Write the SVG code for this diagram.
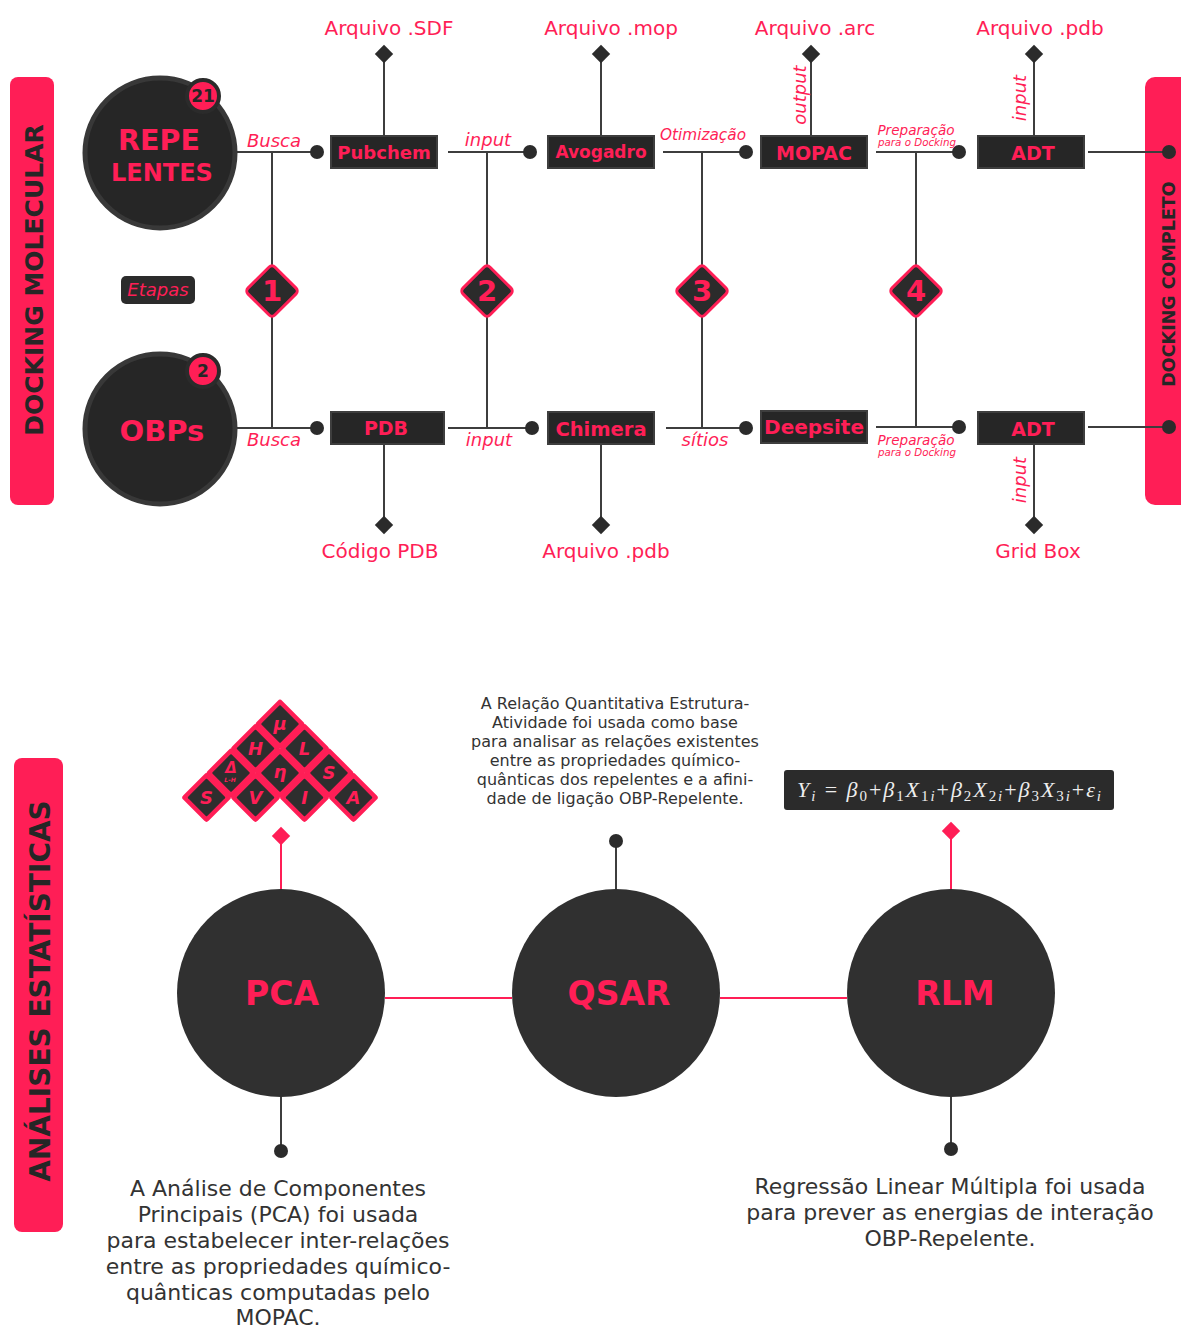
<svg xmlns="http://www.w3.org/2000/svg" width="1181" height="1329" viewBox="0 0 1181 1329">
<style>
text{font-family:"DejaVu Sans",Verdana,sans-serif}
.pk{fill:#ff1e56}
.dk{fill:#2b2b2b}
.bold{font-weight:bold}
.it{font-style:italic}
.ln{stroke:#3d3d3d;stroke-width:2;fill:none}
.pl{stroke:#ff1e56;stroke-width:2;fill:none}
.box{fill:#262626;stroke:#3e3e3e;stroke-width:2}
.lbl{font-size:20px;fill:#ff1e56;text-anchor:middle}
.edge{fill:#ff1e56;font-style:italic;text-anchor:middle}
.nt{font-weight:bold;fill:#ff1e56;text-anchor:middle}
.para{fill:#333;text-anchor:middle}
.cellp{fill:#ff1e56}
.celld{fill:#2e2e2e}
.cl{font-weight:bold;font-style:italic;fill:#ff1e56;text-anchor:middle}
.math{font-family:"Liberation Serif","DejaVu Serif",serif}
</style>
<defs>
<circle id="dot" r="7" fill="#2b2b2b"/>
<rect id="term" x="-6.5" y="-6.5" width="13" height="13" transform="rotate(45)" fill="#2b2b2b"/>
<rect id="pterm" x="-6.5" y="-6.5" width="13" height="13" transform="rotate(45)" fill="#ff1e56"/>
<rect id="step" x="-19" y="-19" width="38" height="38" rx="4" transform="rotate(45)" fill="#2b2b2b" stroke="#ff1e56" stroke-width="3"/>
<rect id="cp" x="-18" y="-18" width="36" height="36" rx="3" transform="rotate(45)" class="cellp"/>
<rect id="cd" x="-13.5" y="-13.5" width="27" height="27" rx="1" transform="rotate(45)" class="celld"/>
</defs>
<rect width="1181" height="1329" fill="#fff"/>

<g id="bar-docking-molecular">
<rect x="10" y="77" width="44" height="428" rx="8" class="pk"/>
<text transform="translate(43,280) rotate(-90)" font-size="25" class="bold" fill="#262626" text-anchor="middle">DOCKING MOLECULAR</text>
</g>
<g id="bar-docking-completo">
<rect x="1145" y="77" width="60" height="428" rx="10" class="pk"/>
<text transform="translate(1175,284) rotate(-90)" font-size="17.5" class="bold" fill="#262626" text-anchor="middle">DOCKING COMPLETO</text>
</g>
<g id="bar-analises">
<rect x="14" y="758" width="49" height="474" rx="8" class="pk"/>
<text transform="translate(50,991) rotate(-90)" font-size="28" class="bold" fill="#262626" text-anchor="middle">ANÁLISES ESTATÍSTICAS</text>
</g>

<g id="connectors">
<line x1="237" y1="152" x2="317" y2="152" class="ln"/>
<line x1="448" y1="152" x2="530" y2="152" class="ln"/>
<line x1="663" y1="152" x2="746" y2="152" class="ln"/>
<line x1="876" y1="152" x2="959" y2="152" class="ln"/>
<line x1="1088" y1="152" x2="1169" y2="152" class="ln"/>
<line x1="237" y1="428" x2="317" y2="428" class="ln"/>
<line x1="448" y1="428" x2="532" y2="428" class="ln"/>
<line x1="666" y1="428" x2="746" y2="428" class="ln"/>
<line x1="876" y1="427" x2="959" y2="427" class="ln"/>
<line x1="1088" y1="427" x2="1169" y2="427" class="ln"/>
<line x1="272" y1="152" x2="272" y2="428" class="ln"/>
<line x1="487" y1="152" x2="487" y2="428" class="ln"/>
<line x1="702" y1="152" x2="702" y2="428" class="ln"/>
<line x1="916" y1="152" x2="916" y2="427" class="ln"/>
<line x1="384" y1="54" x2="384" y2="136" class="ln"/>
<line x1="601" y1="54" x2="601" y2="136" class="ln"/>
<line x1="811" y1="54" x2="811" y2="136" class="ln"/>
<line x1="1034" y1="54" x2="1034" y2="136" class="ln"/>
<line x1="384" y1="444" x2="384" y2="525" class="ln"/>
<line x1="601" y1="444" x2="601" y2="525" class="ln"/>
<line x1="1034" y1="444" x2="1034" y2="525" class="ln"/>
<use href="#term" x="384" y="54"/>
<use href="#term" x="601" y="54"/>
<use href="#term" x="811" y="54"/>
<use href="#term" x="1034" y="54"/>
<use href="#term" x="384" y="525"/>
<use href="#term" x="601" y="525"/>
<use href="#term" x="1034" y="525"/>
<use href="#dot" x="317" y="152"/>
<use href="#dot" x="530" y="152"/>
<use href="#dot" x="746" y="152"/>
<use href="#dot" x="959" y="152"/>
<use href="#dot" x="1169" y="152"/>
<use href="#dot" x="317" y="428"/>
<use href="#dot" x="532" y="428"/>
<use href="#dot" x="746" y="428"/>
<use href="#dot" x="959" y="427"/>
<use href="#dot" x="1169" y="427"/>
<text x="274" y="147" class="edge" style="font-size:18px">Busca</text>
<text x="274" y="446" class="edge" style="font-size:18px">Busca</text>
<text x="488" y="146" class="edge" style="font-size:18px">input</text>
<text x="489" y="446" class="edge" style="font-size:18px">input</text>
<text x="703" y="140" class="edge" style="font-size:15.3px">Otimização</text>
<text x="705" y="446" class="edge" style="font-size:18px">sítios</text>
<text x="916" y="135" class="edge" style="font-size:13.6px">Preparação</text>
<text x="917" y="146" class="edge" style="font-size:10.3px">para o Docking</text>
<text x="916" y="445" class="edge" style="font-size:13.6px">Preparação</text>
<text x="917" y="456" class="edge" style="font-size:10.3px">para o Docking</text>
<text transform="translate(806,95) rotate(-90)" class="edge" style="font-size:18px">output</text>
<text transform="translate(1026,98) rotate(-90)" class="edge" style="font-size:18px">input</text>
<text transform="translate(1026,480) rotate(-90)" class="edge" style="font-size:18px">input</text>
<text x="389" y="35" class="lbl">Arquivo .SDF</text>
<text x="611" y="35" class="lbl">Arquivo .mop</text>
<text x="815" y="35" class="lbl">Arquivo .arc</text>
<text x="1040" y="35" class="lbl">Arquivo .pdb</text>
<text x="380" y="558" class="lbl">Código PDB</text>
<text x="606" y="558" class="lbl">Arquivo .pdb</text>
<text x="1038" y="558" class="lbl">Grid Box</text>
<line x1="385" y1="998" x2="512" y2="998" class="pl"/>
<line x1="720" y1="998" x2="847" y2="998" class="pl"/>
<line x1="281" y1="836" x2="281" y2="889" class="pl"/>
<use href="#pterm" x="281" y="836"/>
<line x1="951" y1="831" x2="951" y2="889" class="pl"/>
<use href="#pterm" x="951" y="831"/>
<line x1="616" y1="841" x2="616" y2="889" class="ln"/>
<use href="#dot" x="616" y="841"/>
<line x1="281" y1="1097" x2="281" y2="1151" class="ln"/>
<use href="#dot" x="281" y="1151"/>
<line x1="951" y1="1097" x2="951" y2="1149" class="ln"/>
<use href="#dot" x="951" y="1149"/>
</g>

<g id="node-repelentes">
<circle cx="160" cy="153" r="75" fill="#262626" stroke="#383838" stroke-width="5"/>
<text x="159" y="150" font-size="28.5" class="nt">REPE</text>
<text x="162" y="181" font-size="24" class="nt">LENTES</text>
<circle cx="203" cy="96" r="16" class="pk" stroke="#2b2b2b" stroke-width="4"/>
<text x="203" y="102" font-size="17" class="bold" fill="#262626" text-anchor="middle">21</text>
</g>
<g id="node-obps">
<circle cx="160" cy="429" r="75" fill="#262626" stroke="#383838" stroke-width="5"/>
<text x="162" y="441" font-size="29" class="nt">OBPs</text>
<circle cx="203" cy="371" r="16" class="pk" stroke="#2b2b2b" stroke-width="4"/>
<text x="203" y="377" font-size="17" class="bold" fill="#262626" text-anchor="middle">2</text>
</g>
<g id="legend-etapas">
<rect x="121" y="276" width="74" height="28" rx="5" fill="#2b2b2b"/>
<text x="158" y="296" font-size="18" class="it pk" text-anchor="middle">Etapas</text>
</g>

<g id="step-1"><use href="#step" x="272" y="291"/><text x="272" y="301" font-size="29" class="nt">1</text></g>
<g id="step-2"><use href="#step" x="487" y="291"/><text x="487" y="301" font-size="29" class="nt">2</text></g>
<g id="step-3"><use href="#step" x="702" y="291"/><text x="702" y="301" font-size="29" class="nt">3</text></g>
<g id="step-4"><use href="#step" x="916" y="291"/><text x="916" y="301" font-size="29" class="nt">4</text></g>

<g id="node-pubchem"><rect x="331" y="136" width="106" height="32" class="box"/><text x="384" y="159" font-size="18" class="nt">Pubchem</text></g>
<g id="node-avogadro"><rect x="548" y="136" width="106" height="32" class="box"/><text x="601" y="158" font-size="17" class="nt">Avogadro</text></g>
<g id="node-mopac"><rect x="761" y="136" width="106" height="32" class="box"/><text x="814" y="160" font-size="19" class="nt">MOPAC</text></g>
<g id="node-adt-top"><rect x="978" y="136" width="106" height="32" class="box"/><text x="1033" y="160" font-size="19" class="nt">ADT</text></g>
<g id="node-pdb"><rect x="331" y="412" width="113" height="32" class="box"/><text x="386" y="435" font-size="19" class="nt">PDB</text></g>
<g id="node-chimera"><rect x="548" y="412" width="106" height="32" class="box"/><text x="601" y="436" font-size="19.5" class="nt">Chimera</text></g>
<g id="node-deepsite"><rect x="761" y="411" width="106" height="32" class="box"/><text x="814" y="434" font-size="20" class="nt">Deepsite</text></g>
<g id="node-adt-bottom"><rect x="978" y="412" width="106" height="32" class="box"/><text x="1033" y="436" font-size="19" class="nt">ADT</text></g>

<g id="node-pca">
<circle cx="281" cy="993" r="104" fill="#303030"/>
<text x="282" y="1005" font-size="33" class="nt">PCA</text>
</g>
<g id="node-qsar">
<circle cx="616" cy="993" r="104" fill="#303030"/>
<text x="619" y="1005" font-size="33" class="nt">QSAR</text>
</g>
<g id="node-rlm">
<circle cx="951" cy="993" r="104" fill="#303030"/>
<text x="955" y="1005" font-size="33" class="nt">RLM</text>
</g>

<g id="descriptor-grid">
<use href="#cp" x="280" y="724"/>
<use href="#cp" x="255.5" y="748.5"/><use href="#cp" x="304.5" y="748.5"/>
<use href="#cp" x="231" y="773"/><use href="#cp" x="280" y="773"/><use href="#cp" x="329" y="773"/>
<use href="#cp" x="206.5" y="797.5"/><use href="#cp" x="255.5" y="797.5"/><use href="#cp" x="304.5" y="797.5"/><use href="#cp" x="353.5" y="797.5"/>
<use href="#cd" x="280" y="724"/>
<use href="#cd" x="255.5" y="748.5"/><use href="#cd" x="304.5" y="748.5"/>
<use href="#cd" x="231" y="773"/><use href="#cd" x="280" y="773"/><use href="#cd" x="329" y="773"/>
<use href="#cd" x="206.5" y="797.5"/><use href="#cd" x="255.5" y="797.5"/><use href="#cd" x="304.5" y="797.5"/><use href="#cd" x="353.5" y="797.5"/>
<text x="280" y="730" class="cl" style="font-size:18px">μ</text>
<text x="255.5" y="755" class="cl" style="font-size:18px">H</text>
<text x="304.5" y="755" class="cl" style="font-size:18px">L</text>
<text x="231" y="773" class="cl" style="font-size:15px">Δ</text>
<text x="230" y="782" class="cl" style="font-size:6px">L-H</text>
<text x="280" y="778" class="cl" style="font-size:18px">η</text>
<text x="329" y="779" class="cl" style="font-size:18px">S</text>
<text x="206.5" y="804" class="cl" style="font-size:18px">S</text>
<text x="255.5" y="804" class="cl" style="font-size:18px">V</text>
<text x="304.5" y="804" class="cl" style="font-size:18px">I</text>
<text x="353.5" y="804" class="cl" style="font-size:18px">A</text>
</g>

<g id="formula">
<rect x="784" y="770" width="330" height="40" rx="3" fill="#2b2b2b"/>
<text x="797" y="797" class="math" font-size="22" fill="#eeeeee" textLength="304" lengthAdjust="spacing"><tspan font-style="italic">Y</tspan><tspan font-size="15" font-style="italic" dy="4">i</tspan><tspan dy="-4"> = </tspan><tspan font-style="italic">β</tspan><tspan font-size="15" dy="4">0</tspan><tspan dy="-4">+</tspan><tspan font-style="italic">β</tspan><tspan font-size="15" dy="4">1</tspan><tspan dy="-4" font-style="italic">X</tspan><tspan font-size="15" dy="4">1</tspan><tspan font-size="15" font-style="italic">i</tspan><tspan dy="-4">+</tspan><tspan font-style="italic">β</tspan><tspan font-size="15" dy="4">2</tspan><tspan dy="-4" font-style="italic">X</tspan><tspan font-size="15" dy="4">2</tspan><tspan font-size="15" font-style="italic">i</tspan><tspan dy="-4">+</tspan><tspan font-style="italic">β</tspan><tspan font-size="15" dy="4">3</tspan><tspan dy="-4" font-style="italic">X</tspan><tspan font-size="15" dy="4">3</tspan><tspan font-size="15" font-style="italic">i</tspan><tspan dy="-4">+</tspan><tspan font-style="italic">ε</tspan><tspan font-size="15" font-style="italic" dy="4">i</tspan></text>
</g>

<g id="text-qsar" font-size="16">
<text x="615" y="709" class="para">A Relação Quantitativa Estrutura-</text>
<text x="615" y="728" class="para">Atividade foi usada como base</text>
<text x="615" y="747" class="para">para analisar as relações existentes</text>
<text x="615" y="766" class="para">entre as propriedades químico-</text>
<text x="615" y="785" class="para">quânticas dos repelentes e a afini-</text>
<text x="615" y="804" class="para">dade de ligação OBP-Repelente.</text>
</g>
<g id="text-pca" font-size="22">
<text x="278" y="1196" class="para">A Análise de Componentes</text>
<text x="278" y="1222" class="para">Principais (PCA) foi usada</text>
<text x="278" y="1248" class="para">para estabelecer inter-relações</text>
<text x="278" y="1274" class="para">entre as propriedades químico-</text>
<text x="278" y="1300" class="para">quânticas computadas pelo</text>
<text x="278" y="1325" class="para">MOPAC.</text>
</g>
<g id="text-rlm" font-size="22">
<text x="950" y="1194" class="para">Regressão Linear Múltipla foi usada</text>
<text x="950" y="1220" class="para">para prever as energias de interação</text>
<text x="950" y="1246" class="para">OBP-Repelente.</text>
</g>
</svg>
